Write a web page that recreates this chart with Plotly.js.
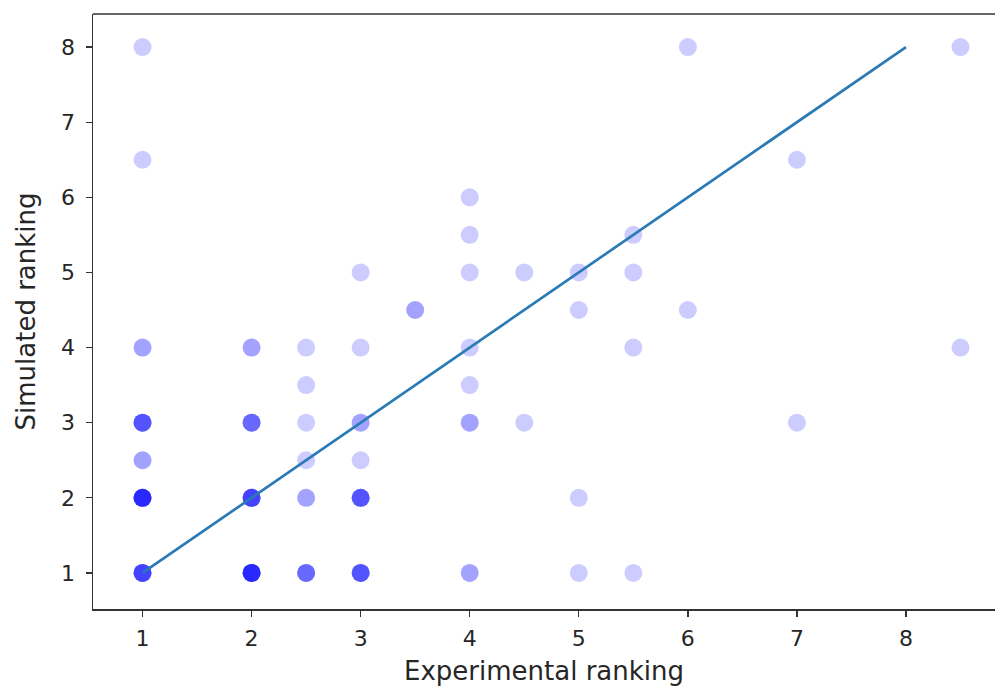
<!DOCTYPE html>
<html>
<head>
<meta charset="utf-8">
<script src="https://cdn.plot.ly/plotly-3.0.1.min.js"></script>
<style>html,body{margin:0;padding:0;overflow:hidden;background:#fff;}#chart{width:995px;height:694px;}</style>
</head>
<body>
<div id="chart"></div>
<script>
// Experimental vs simulated ranking (each entry is one observation; repeated pairs overlap)
var experimental = [
  1, 1, 1,1, 1,1,1,1,1, 1,1, 1,1,1,1,1,1,1,1, 1,1,1,1,1,1,
  2,2, 2,2,2,2, 2,2,2,2,2,2, 2,2,2,2,2,2,2,2,
  2.5, 2.5, 2.5, 2.5, 2.5,2.5, 2.5,2.5,2.5,2.5,
  3, 3, 3,3, 3, 3,3,3,3,3, 3,3,3,3,3,
  3.5,3.5,
  4, 4, 4, 4, 4, 4,4, 4,4,
  4.5, 4.5,
  5, 5, 5, 5,
  5.5, 5.5, 5.5, 5.5,
  6, 6,
  7, 7,
  8.5, 8.5
];
var simulated = [
  8, 6.5, 4,4, 3,3,3,3,3, 2.5,2.5, 2,2,2,2,2,2,2,2, 1,1,1,1,1,1,
  4,4, 3,3,3,3, 2,2,2,2,2,2, 1,1,1,1,1,1,1,1,
  4, 3.5, 3, 2.5, 2,2, 1,1,1,1,
  5, 4, 3,3, 2.5, 2,2,2,2,2, 1,1,1,1,1,
  4.5,4.5,
  6, 5.5, 5, 4, 3.5, 3,3, 1,1,
  5, 3,
  5, 4.5, 2, 1,
  5.5, 5, 4, 1,
  8, 4.5,
  6.5, 3,
  8, 4
];
// Reference line
var lineX = [1, 8];
var lineY = [1, 8];

var xTicks = [1, 2, 3, 4, 5, 6, 7, 8];
var yTicks = [1, 2, 3, 4, 5, 6, 7, 8];

var font = 'DejaVu Sans, sans-serif';

var traces = [
  {
    x: experimental, y: simulated, type: 'scatter', mode: 'markers',
    marker: {color: 'rgba(0,0,255,0.2)', size: 18, line: {width: 0}},
    hoverinfo: 'x+y', showlegend: false
  },
  {
    x: lineX, y: lineY, type: 'scatter', mode: 'lines',
    line: {color: '#2a7ab5', width: 2.7},
    showlegend: false
  }
];

var layout = {
  width: 995, height: 694,
  margin: {l: 93, r: 0, t: 14, b: 85},
  paper_bgcolor: '#ffffff', plot_bgcolor: '#ffffff',
  showlegend: false,
  font: {family: font, size: 22, color: '#262626'},
  xaxis: {
    range: [0.546, 8.816],
    tickvals: xTicks, ticktext: xTicks.map(String),
    showgrid: false, zeroline: false,
    showline: true, linecolor: '#333333', linewidth: 1.5,
    ticks: 'outside', ticklen: 6, tickwidth: 1.3, tickcolor: '#333333',
    ticklabelstandoff: 3,
    tickfont: {family: font, size: 22, color: '#262626'},
    title: {text: 'Experimental ranking', font: {family: font, size: 26, color: '#262626'}, standoff: 12}
  },
  yaxis: {
    range: [0.52, 8.44],
    tickvals: yTicks, ticktext: yTicks.map(String),
    showgrid: false, zeroline: false,
    showline: true, linecolor: '#333333', linewidth: 1.5,
    ticks: 'outside', ticklen: 6, tickwidth: 1.3, tickcolor: '#333333',
    ticklabelstandoff: 6,
    tickfont: {family: font, size: 22, color: '#262626'},
    title: {text: 'Simulated ranking', font: {family: font, size: 26, color: '#262626'}, standoff: 18}
  },
  shapes: [
    {type: 'line', xref: 'paper', yref: 'paper', x0: 0, x1: 1, y0: 1, y1: 1,
     line: {color: '#333333', width: 1.5}}
  ]
};

Plotly.newPlot('chart', traces, layout, {displayModeBar: false, staticPlot: true});
</script>
</body>
</html>
